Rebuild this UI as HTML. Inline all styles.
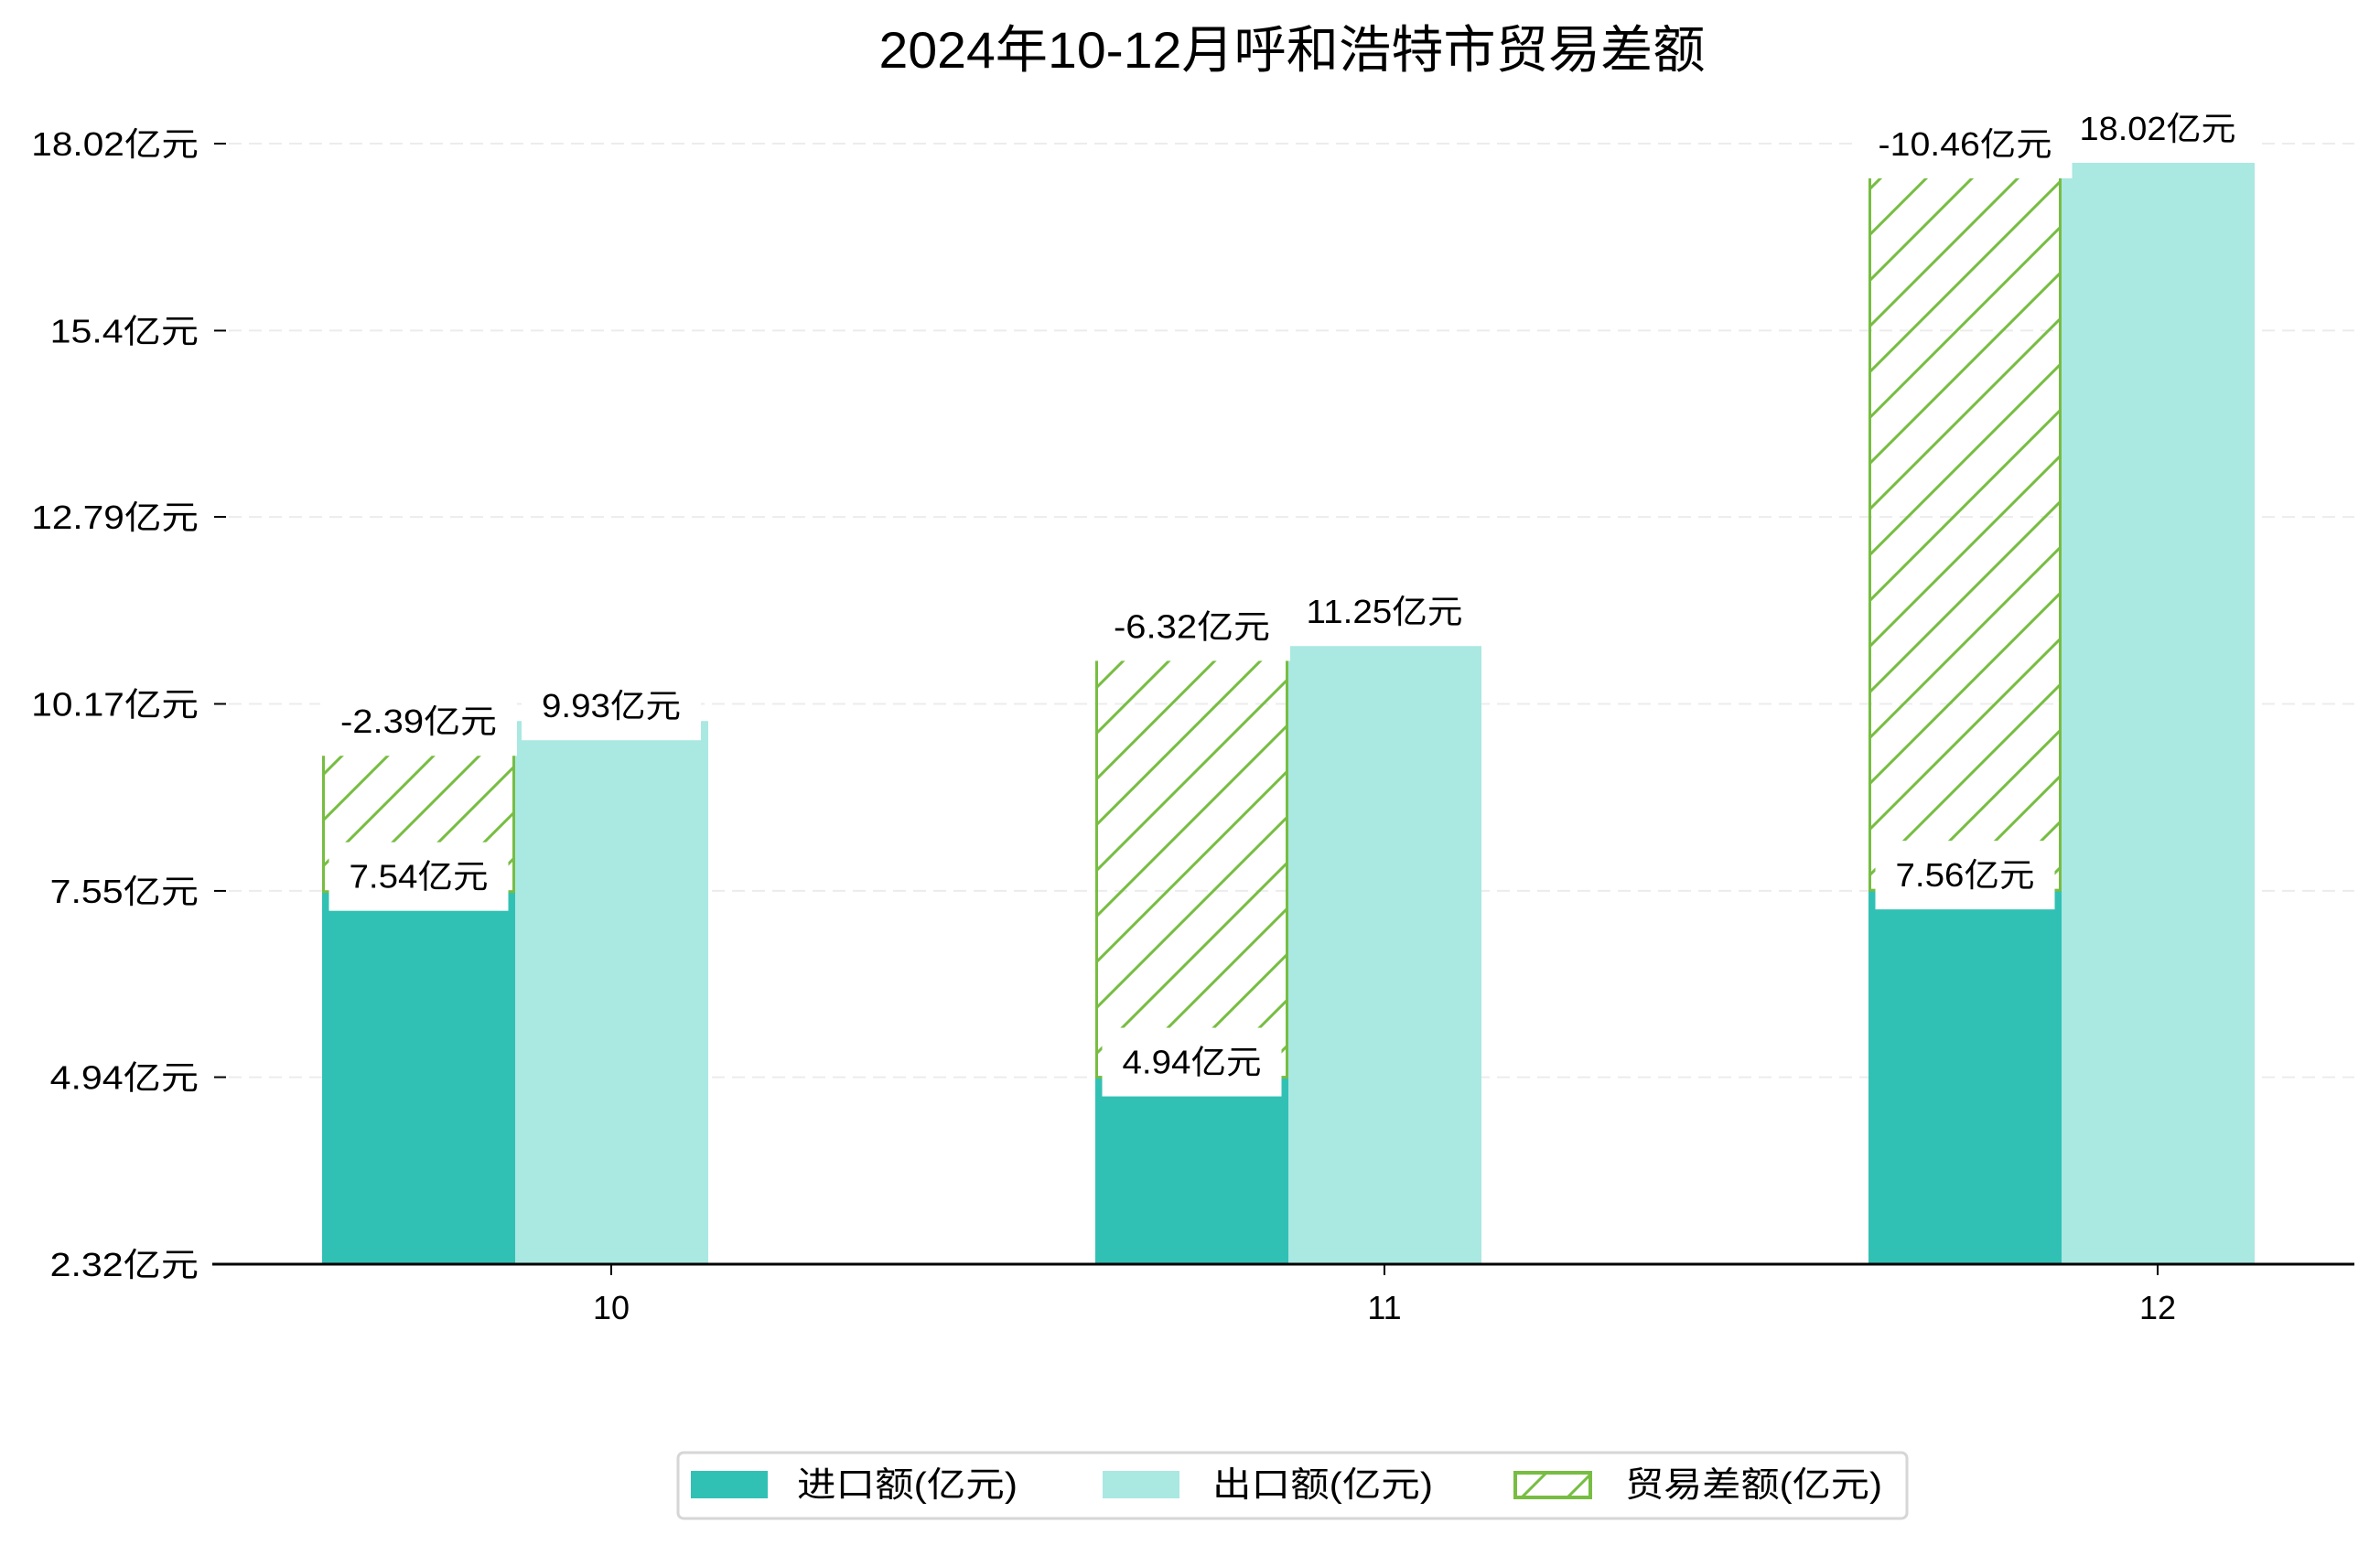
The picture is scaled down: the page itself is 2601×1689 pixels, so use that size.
<!DOCTYPE html>
<html><head><meta charset="utf-8"><style>
body{margin:0;background:#fff}
svg{display:block}
text{font-family:"Liberation Sans","Noto Sans CJK SC",sans-serif;fill:#000}
</style></head><body>
<svg id="chart" width="2601" height="1689" viewBox="0 0 2601 1689" xmlns="http://www.w3.org/2000/svg">
<defs>
<pattern id="hatch" patternUnits="userSpaceOnUse" width="50" height="50">
<path d="M-5,55 L55,-5 M-30,30 L30,-30 M20,80 L80,20" stroke="#77bd42" stroke-width="3"/>
</pattern>
</defs>
<text x="1412" y="74" text-anchor="middle" font-size="56" textLength="903" lengthAdjust="spacingAndGlyphs">2024年10-12月呼和浩特市贸易差额</text>
<g id="grid"></g>
<g id="bars"></g>
<g id="labels"></g>
<g id="axes"></g>
<g>
<rect x="741" y="1588" width="1343" height="72" rx="6" fill="#fff" stroke="#d6d6d6" stroke-width="3"/>
<rect x="755" y="1608" width="84" height="30" fill="#31c1b4"/>
<text x="871" y="1636" font-size="38" textLength="241" lengthAdjust="spacingAndGlyphs">进口额(亿元)</text>
<rect x="1205" y="1608" width="84" height="30" fill="#aae8e2"/>
<text x="1325" y="1636" font-size="38" textLength="241" lengthAdjust="spacingAndGlyphs">出口额(亿元)</text>
<rect x="1656" y="1610" width="82" height="27" fill="url(#hatch)" stroke="#77bd42" stroke-width="4"/>
<text x="1776" y="1636" font-size="38" textLength="281" lengthAdjust="spacingAndGlyphs">贸易差额(亿元)</text>
</g>
</svg>
<script>
const categories = ["10", "11", "12"];
const importValues = [7.54, 4.94, 7.56];
const exportValues = [9.93, 11.25, 18.02];
const balanceValues = [-2.39, -6.32, -10.46];
const yTicks = [2.32, 4.94, 7.55, 10.17, 12.79, 15.4, 18.02];
const yTickLabels = ["2.32亿元", "4.94亿元", "7.55亿元", "10.17亿元", "12.79亿元", "15.4亿元", "18.02亿元"];

const NS = "http://www.w3.org/2000/svg";
const yMin = 2.32, yMax = 18.02, yBottom = 1382, yTop = 157;
const y = v => yBottom - (v - yMin) / (yMax - yMin) * (yBottom - yTop);
const xCenter = i => 668 + i * 845;
const barW = 211;
function mk(tag, attrs, parent) { const e = document.createElementNS(NS, tag); for (const k in attrs) e.setAttribute(k, attrs[k]); parent.appendChild(e); return e; }
function tw(s, f) { let w = 0; for (const c of s) w += c.charCodeAt(0) > 255 ? f : f * 0.5; return w; }
const grid = document.getElementById('grid'), bars = document.getElementById('bars'), labels = document.getElementById('labels'), axes = document.getElementById('axes');

yTicks.forEach((t, i) => {
  const yy = y(t);
  if (i > 0) {
    const g = mk('line', {x1: 250, x2: 2573, y1: yy, y2: yy, stroke: '#ececec', 'stroke-width': 2, 'stroke-dasharray': '14 8'}, grid);
    
    
  }
  const tk = mk('line', {x1: 234, x2: 247, y1: yy, y2: yy, stroke: '#000', 'stroke-width': 2}, axes);
  
  
  const tx = mk('text', {x: 217, y: yy + 13, 'text-anchor': 'end', 'font-size': 36, textLength: tw(yTickLabels[i], 40.6), lengthAdjust: 'spacingAndGlyphs'}, axes);
  tx.textContent = yTickLabels[i];
  
  
});
const ax = mk('line', {x1: 232, x2: 2573, y1: yBottom, y2: yBottom, stroke: '#000', 'stroke-width': 3}, axes);



function label(txt, cx, cy) {
  const w = tw(txt, 38);
  const r = mk('rect', {x: cx - w / 2 - 22, y: cy - 37, width: w + 44, height: 75, fill: '#fff'}, labels);
  
  
  const t = mk('text', {x: cx, y: cy + 13, 'text-anchor': 'middle', 'font-size': 36, textLength: w, lengthAdjust: 'spacingAndGlyphs'}, labels);
  t.textContent = txt;
  
  
}

categories.forEach((c, i) => {
  const cx = xCenter(i);
  const ix = cx - 105 - barW;
  const ex = cx - 105;
  const b1 = mk('rect', {x: ix, y: y(importValues[i]), width: barW, height: yBottom - y(importValues[i]), fill: '#31c1b4'}, bars);
  
  
  const b2 = mk('rect', {x: ex, y: y(exportValues[i]), width: barW, height: yBottom - y(exportValues[i]), fill: '#aae8e2'}, bars);
  
  
  const top = importValues[i] - balanceValues[i];
  const b3 = mk('rect', {x: ix + 1.5, y: y(top), width: barW - 3, height: y(importValues[i]) - y(top), fill: 'url(#hatch)', stroke: '#77bd42', 'stroke-width': 3}, bars);
  
  
  const ct = mk('line', {x1: cx, x2: cx, y1: yBottom, y2: yBottom + 12, stroke: '#000', 'stroke-width': 2}, axes);
  
  
  const cl = mk('text', {x: cx, y: 1442, 'text-anchor': 'middle', 'font-size': 36}, axes);
  cl.textContent = c;
  
  
});
categories.forEach((c, i) => {
  const cx = xCenter(i);
  const icx = cx - 105 - barW / 2;
  label(balanceValues[i] + '亿元', icx, y(importValues[i] - balanceValues[i]));
  label(exportValues[i] + '亿元', cx, y(exportValues[i]) - 17);
  label(importValues[i] + '亿元', icx, y(importValues[i]) - 17);
});
</script>
</body></html>
